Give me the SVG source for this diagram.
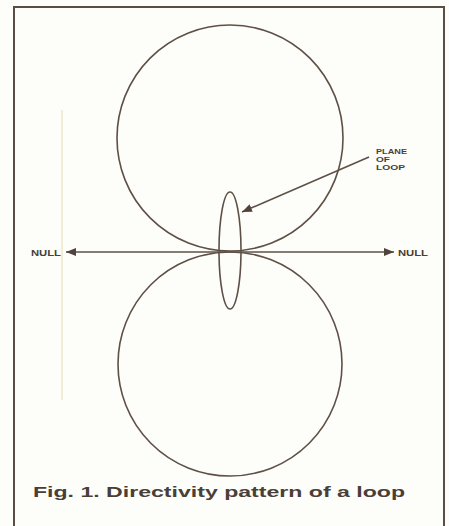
<svg xmlns="http://www.w3.org/2000/svg" width="449" height="526" viewBox="0 0 449 526">
<style>
.ln{fill:none;stroke:#5e5046;stroke-width:1.6}
.lbl{font-family:"Liberation Sans",Arial,sans-serif;font-weight:bold;fill:#4a3f38}
</style>
<defs>
<marker id="ah" viewBox="0 0 10 8" refX="10" refY="4" markerWidth="10" markerHeight="8" markerUnits="userSpaceOnUse" orient="auto">
<path d="M0,0 L10,4 L0,8 Z" fill="#4f433b"/>
</marker>
</defs>
<rect width="449" height="526" fill="#fdfdf9"/>
<path d="M14,530 V7 H444 V530" fill="none" stroke="#5a4d44" stroke-width="2"/>
<line x1="62" y1="110" x2="62" y2="400" stroke="#f2eed6" stroke-width="2"/>
<g id="upper-lobe"><circle class="ln" cx="230" cy="138" r="113"/></g>
<g id="lower-lobe"><circle class="ln" cx="230" cy="364" r="112"/></g>
<g id="loop"><ellipse class="ln" cx="230" cy="250.5" rx="11" ry="58.5"/></g>
<g id="connectors">
<line class="ln" x1="230" y1="252" x2="66" y2="252" marker-end="url(#ah)"/>
<line class="ln" x1="230" y1="252" x2="394" y2="252" marker-end="url(#ah)"/>
<line class="ln" x1="369" y1="157" x2="242" y2="212" stroke-width="1.3" marker-end="url(#ah)"/>
</g>
<g id="null-left"><text class="lbl" x="31" y="255.5" font-size="9" textLength="30" lengthAdjust="spacingAndGlyphs">NULL</text></g>
<g id="null-right"><text class="lbl" x="398" y="255.5" font-size="9" textLength="30" lengthAdjust="spacingAndGlyphs">NULL</text></g>
<g id="plane-label">
<text class="lbl" x="376" y="153.5" font-size="8" textLength="31" lengthAdjust="spacingAndGlyphs">PLANE</text>
<text class="lbl" x="376" y="161.5" font-size="8" textLength="14" lengthAdjust="spacingAndGlyphs">OF</text>
<text class="lbl" x="376" y="169.5" font-size="8" textLength="29" lengthAdjust="spacingAndGlyphs">LOOP</text>
</g>
<g id="caption"><text class="lbl" x="33" y="497" font-size="15" textLength="372" lengthAdjust="spacingAndGlyphs" fill="#3f3530">Fig. 1. Directivity pattern of a loop</text></g>
</svg>
